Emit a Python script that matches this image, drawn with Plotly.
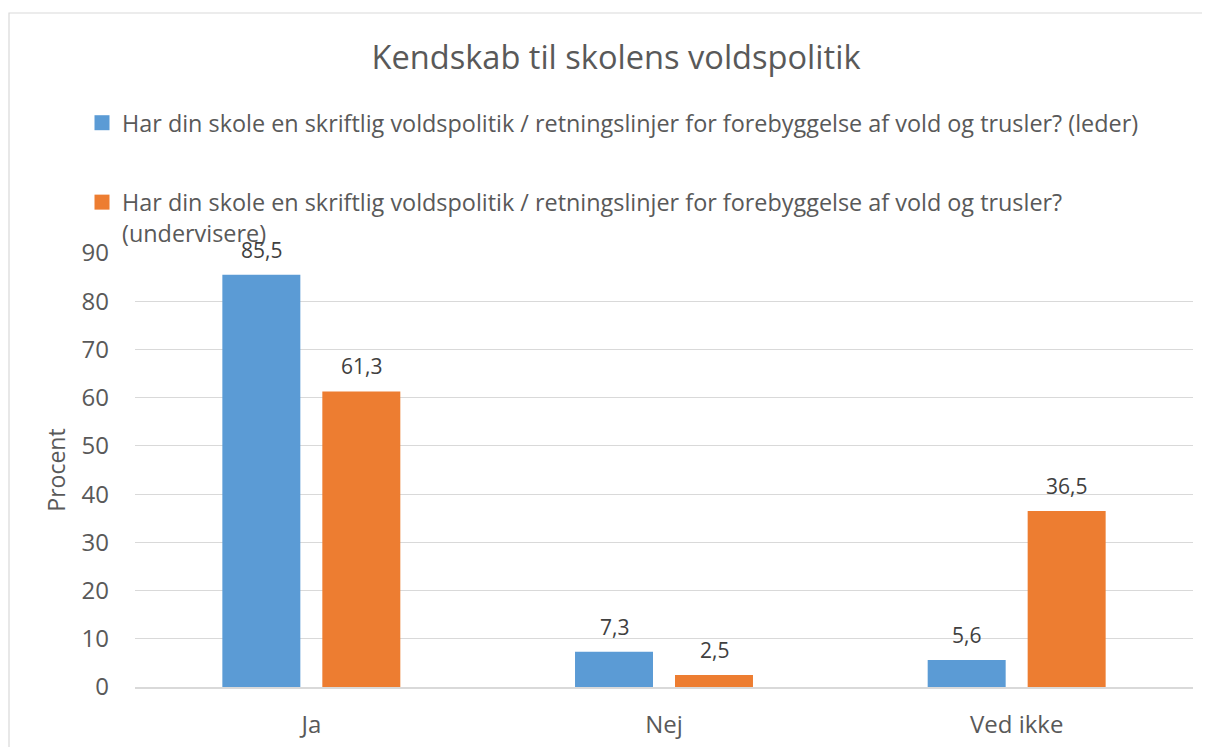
import plotly.graph_objects as go

categories = ["Ja", "Nej", "Ved ikke"]
leder = [85.5, 7.3, 5.6]
undervisere = [61.3, 2.5, 36.5]
series_names = [
    "Har din skole en skriftlig voldspolitik / retningslinjer for forebyggelse af vold og trusler? (leder)",
    "Har din skole en skriftlig voldspolitik / retningslinjer for forebyggelse af vold og trusler?<br>(undervisere)",
]
colors = ["#5B9BD5", "#ED7D31"]
y_ticks = [0, 10, 20, 30, 40, 50, 60, 70, 80, 90]

FONT = "Open Sans, sans-serif"
GREY = "#595959"

OFF = 8  # page body margin
W, H = 1210 - OFF, 747 - OFF
L, R, T, B = 135 - OFF, 17, 253 - OFF, 60
pw, ph = W - L - R, H - T - B


def px_x(x):  # screen px -> paper
    return (x - OFF - L) / pw


def px_y(y):
    return (H - B - (y - OFF)) / ph


fig = go.Figure()
for name, vals, col in zip(series_names, [leder, undervisere], colors):
    fig.add_trace(go.Bar(x=categories, y=vals, name=name, marker_color=col,
                         marker_line_width=0, showlegend=False, cliponaxis=False))
    # legend entry with square swatch
    fig.add_trace(go.Scatter(x=[None], y=[None], mode="markers", name=name,
                             marker=dict(symbol="square", size=15, color=col),
                             legendgroup=name, showlegend=True))

# value labels above bars
for vals, dx in zip([leder, undervisere], [-50, 50]):
    for c, v in zip(categories, vals):
        fig.add_annotation(x=c, y=v, xshift=dx, yshift=9, yanchor="bottom",
                           text=f"{v:.1f}".replace(".", ","), showarrow=False,
                           font=dict(size=21, color="#404040", family=FONT))

fig.update_layout(
    width=W, height=H,
    margin=dict(l=L, r=R, t=T, b=B, autoexpand=False),
    paper_bgcolor="white", plot_bgcolor="white",
    separators=",.",
    font=dict(family=FONT, color=GREY),
    title=dict(text="Kendskab til skolens voldspolitik", x=(616 - OFF) / W, xanchor="center",
               y=1 - (58 - OFF) / H, yanchor="middle", yref="container", xref="container",
               font=dict(size=32.6, color=GREY, family=FONT)),
    barmode="group", bargap=0.433, bargroupgap=0.22,
    showlegend=True,
    legend=dict(orientation="v", x=px_x(82), xanchor="left", y=px_y(101), yanchor="top",
                font=dict(size=23.4, color=GREY, family=FONT), tracegroupgap=46,
                traceorder="grouped", valign="top", bgcolor="rgba(0,0,0,0)"),
)
fig.update_yaxes(range=[0, 90], tickvals=y_ticks, gridcolor="#D9D9D9", gridwidth=1,
                 zeroline=False, showline=False,
                 tickfont=dict(size=24, color=GREY, family=FONT), ticklabelstandoff=25,
                 title=dict(text="Procent", font=dict(size=23, color=GREY, family=FONT), standoff=9))
fig.update_xaxes(showline=True, linecolor="#D9D9D9", linewidth=2, showgrid=False,
                 tickfont=dict(size=24, color=GREY, family=FONT), ticklabelstandoff=15,
                 ticks="")

fig.add_shape(type="rect", xref="paper", yref="paper",
              x0=px_x(9), x1=px_x(1260), y0=px_y(800), y1=px_y(13),
              line=dict(color="#D9D9D9", width=1.2), fillcolor="rgba(0,0,0,0)", layer="below")

fig.write_html("out.html")
